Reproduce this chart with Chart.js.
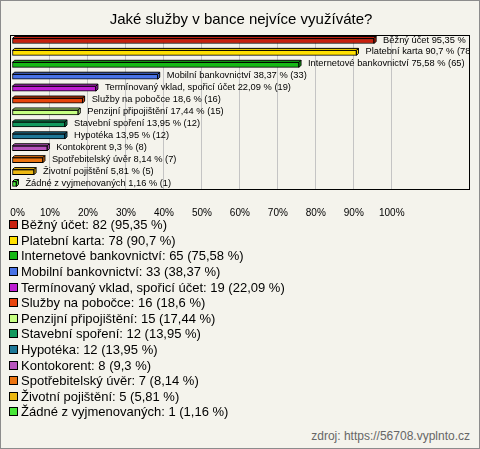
<!DOCTYPE html>
<html>
<head>
<meta charset="utf-8">
<script src="https://cdn.jsdelivr.net/npm/chart.js@4/dist/chart.umd.min.js"></script>
<style>
  html, body { margin: 0; padding: 0; background: #fff; }
  #wrap { position: relative; width: 480px; height: 449px; background: #F4F3EC; overflow: hidden;
          font-family: "Liberation Sans", Arial, sans-serif; }
  #frame { position: absolute; left: 0; top: 0; width: 480px; height: 449px; box-sizing: border-box;
           border: 1px solid #8c8c8c; pointer-events: none; }
  #c { position: absolute; left: 0; top: 0; }
  #legend { position: absolute; left: 9px; top: 217px; font-size: 13px; color: #000; }
  .row { display: flex; align-items: center; height: 15.6px; white-space: nowrap; }
  .sw { width: 7px; height: 7px; border: 1px solid #000; margin-right: 3px; flex: none; }
  #src { position: absolute; right: 10px; top: 429px; font-size: 12px; color: #666; }
</style>
</head>
<body>
<div id="wrap">
  <canvas id="c" width="480" height="232"></canvas>
  <div id="legend"></div>
  <div id="src">zdroj: https://56708.vyplnto.cz</div>
  <div id="frame"></div>
</div>
<script>
const titleText = 'Jaké služby v bance nejvíce využíváte?';
const categories = [
  'Běžný účet', 'Platební karta', 'Internetové bankovnictví', 'Mobilní bankovnictví',
  'Termínovaný vklad, spořicí účet', 'Služby na pobočce', 'Penzijní připojištění',
  'Stavební spoření', 'Hypotéka', 'Kontokorent', 'Spotřebitelský úvěr',
  'Životní pojištění', 'Žádné z vyjmenovaných'
];
const counts = [82, 78, 65, 33, 19, 16, 15, 12, 12, 8, 7, 5, 1];
const percents = [95.35, 90.7, 75.58, 38.37, 22.09, 18.6, 17.44, 13.95, 13.95, 9.3, 8.14, 5.81, 1.16];
const colors = [
  '#C8200E', '#FFE000', '#16B816', '#4872E6', '#BE1ED2', '#E8440C', '#C6FF82',
  '#12995E', '#1E7898', '#B855BE', '#EC7410', '#ECB812', '#48E638'
];
const tickValues = [0, 10, 20, 30, 40, 50, 60, 70, 80, 90, 100];
const tickLabels = ['    0%', '10%', '20%', '30%', '40%', '50%', '60%', '70%', '80%', '90%', '100%'];

const FONT = '"Liberation Sans", Arial, sans-serif';
const fmt = v => String(v).replace('.', ',');
const DEPTH = 2;

const bar3d = {
  id: 'bar3d',
  afterDatasetsDraw(chart) {
    const ctx = chart.ctx, meta = chart.getDatasetMeta(0), area = chart.chartArea;
    ctx.save();
    ctx.lineWidth = 1;
    ctx.strokeStyle = '#000';
    meta.data.forEach((el, i) => {
      const p = el.getProps(['x', 'y', 'base', 'height'], true);
      const top = p.y - p.height / 2, bottom = p.y + p.height / 2, d = DEPTH;
      ctx.fillStyle = colors[i];
      ctx.beginPath();
      ctx.moveTo(p.base, top); ctx.lineTo(p.base + d, top - d);
      ctx.lineTo(p.x + d, top - d); ctx.lineTo(p.x, top); ctx.closePath();
      ctx.fill(); ctx.stroke();
      ctx.beginPath();
      ctx.moveTo(p.x, top); ctx.lineTo(p.x + d, top - d);
      ctx.lineTo(p.x + d, bottom - d); ctx.lineTo(p.x, bottom); ctx.closePath();
      ctx.fill(); ctx.stroke();
    });
    ctx.beginPath();
    ctx.rect(area.left, area.top, area.right - area.left, area.bottom - area.top);
    ctx.clip();
    ctx.font = '9.3px ' + FONT;
    ctx.fillStyle = '#000';
    ctx.textBaseline = 'middle';
    ctx.textAlign = 'left';
    meta.data.forEach((el, i) => {
      const p = el.getProps(['x', 'y'], true);
      ctx.fillText(categories[i] + ' ' + fmt(percents[i]) + ' % (' + counts[i] + ')', p.x + DEPTH + 7, p.y - 1);
    });
    ctx.restore();
  },
  afterDraw(chart) {
    const ctx = chart.ctx, a = chart.chartArea;
    ctx.save();
    ctx.strokeStyle = '#000';
    ctx.lineWidth = 1;
    const l = Math.round(a.left - 2) + 0.5, t = Math.round(a.top) + 0.5;
    const r = Math.round(a.right) - 0.5, b = Math.round(a.bottom) - 0.5;
    ctx.strokeRect(l, t, r - l, b - t);
    ctx.restore();
  }
};

new Chart(document.getElementById('c'), {
  type: 'bar',
  data: {
    labels: categories,
    datasets: [{
      data: percents,
      backgroundColor: colors,
      borderColor: '#000',
      borderWidth: 1,
      borderSkipped: false,
      barThickness: 5
    }]
  },
  plugins: [bar3d],
  options: {
    indexAxis: 'y',
    responsive: false,
    animation: false,
    layout: { padding: { left: 12, right: 10, top: 0, bottom: 13 } },
    plugins: {
      legend: { display: false },
      tooltip: { enabled: false },
      title: {
        display: true, text: titleText, color: '#000',
        font: { family: FONT, size: 15, weight: 'normal' },
        padding: { top: 11, bottom: 6 }
      }
    },
    scales: {
      y: { display: false },
      x: {
        min: 0, max: 120.6,
        afterBuildTicks: s => { s.ticks = tickValues.map(v => ({ value: v })); },
        afterFit: s => { s.height = 29; s.paddingLeft = 0; s.paddingRight = 0; },
        border: { display: false },
        grid: {
          drawTicks: false,
          color: c => (c.tick && c.tick.value > 0 && c.tick.value <= 100) ? '#c4c4c4' : 'rgba(0,0,0,0)',
          lineWidth: 1
        },
        ticks: {
          padding: 17, color: '#000', maxRotation: 0, autoSkip: false,
          font: { family: FONT, size: 10 },
          callback: (v, i) => tickLabels[i]
        }
      }
    }
  }
});

const legend = document.getElementById('legend');
categories.forEach((c, i) => {
  const row = document.createElement('div');
  row.className = 'row';
  const sw = document.createElement('span');
  sw.className = 'sw';
  sw.style.background = colors[i];
  const tx = document.createElement('span');
  tx.textContent = c + ': ' + counts[i] + ' (' + fmt(percents[i]) + ' %)';
  row.appendChild(sw);
  row.appendChild(tx);
  legend.appendChild(row);
});
</script>
</body>
</html>
